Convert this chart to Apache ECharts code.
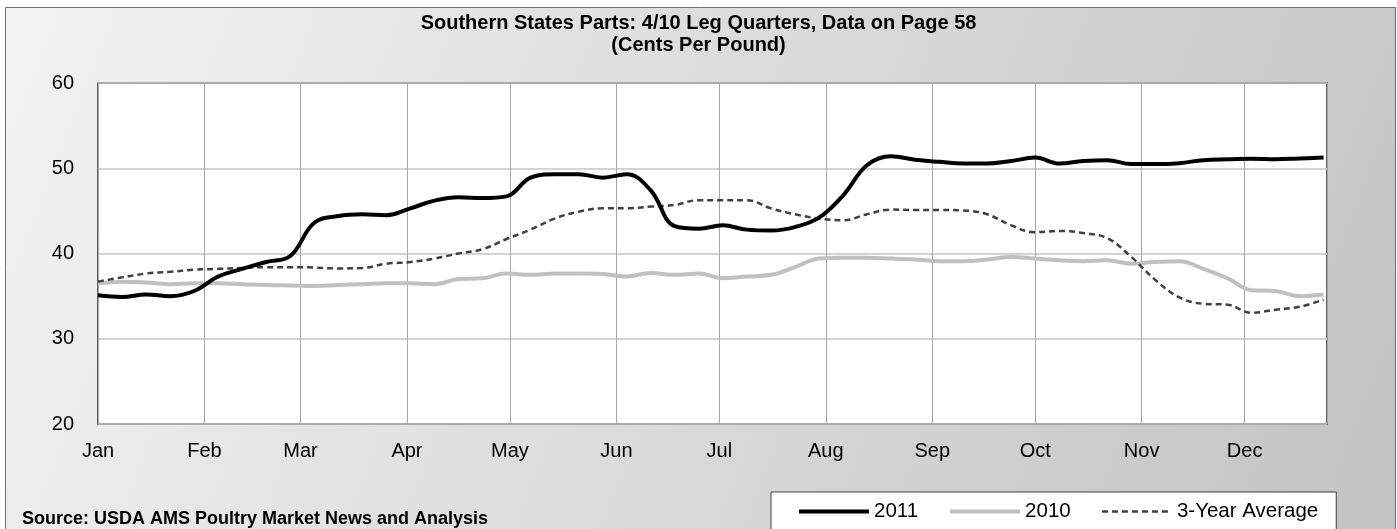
<!DOCTYPE html>
<html>
<head>
<meta charset="utf-8">
<script src="https://cdn.jsdelivr.net/npm/echarts@6/dist/echarts.min.js"></script>
<style>
  html, body { margin: 0; padding: 0; background: #ffffff; }
  #chart { width: 1397px; height: 529px; }
</style>
</head>
<body>
<div id="chart"></div>
<script>
// Weekly observation dates
const weekDates = [
  '2011-01-01','2011-01-08','2011-01-15','2011-01-22','2011-01-29',
  '2011-02-05','2011-02-12','2011-02-19','2011-02-26',
  '2011-03-05','2011-03-12','2011-03-19','2011-03-26',
  '2011-04-02','2011-04-09','2011-04-16','2011-04-23','2011-04-30',
  '2011-05-07','2011-05-14','2011-05-21','2011-05-28',
  '2011-06-04','2011-06-11','2011-06-18','2011-06-25',
  '2011-07-02','2011-07-09','2011-07-16','2011-07-23','2011-07-30',
  '2011-08-06','2011-08-13','2011-08-20','2011-08-27',
  '2011-09-03','2011-09-10','2011-09-17','2011-09-24',
  '2011-10-01','2011-10-08','2011-10-15','2011-10-22','2011-10-29',
  '2011-11-05','2011-11-12','2011-11-19','2011-11-26',
  '2011-12-03','2011-12-10','2011-12-17','2011-12-24'
];
const monthLabels = ['Jan','Feb','Mar','Apr','May','Jun','Jul','Aug','Sep','Oct','Nov','Dec'];

const s2011 = [35.1,34.9,35.2,35.0,35.6,37.3,38.2,39.0,39.7,43.6,
               44.4,44.6,44.5,45.3,46.2,46.6,46.5,46.7,48.9,49.3,
               49.3,48.9,49.3,47.4,43.2,42.9,43.3,42.8,42.7,43.1,
               44.2,46.8,50.35,51.4,51.0,50.75,50.55,50.55,50.85,51.25,
               50.55,50.85,50.95,50.5,50.5,50.6,50.95,51.05,51.1,51.05,
               51.15,51.25];
const s2010 = [36.5,36.7,36.6,36.4,36.5,36.5,36.4,36.3,36.25,36.2,
               36.3,36.4,36.5,36.5,36.4,37.0,37.1,37.65,37.5,37.65,
               37.65,37.6,37.3,37.7,37.5,37.65,37.1,37.3,37.5,38.4,
               39.4,39.5,39.5,39.4,39.3,39.1,39.1,39.3,39.6,39.4,
               39.2,39.1,39.2,38.8,39.0,39.1,38.2,37.1,35.7,35.6,
               35.0,35.2];
const sAvg = [36.7,37.2,37.65,37.85,38.1,38.2,38.3,38.4,38.4,38.35,
              38.25,38.3,38.8,39.0,39.4,40.0,40.5,41.7,42.8,44.1,
              44.9,45.3,45.3,45.5,45.7,46.25,46.25,46.25,45.3,44.6,
              44.1,43.9,44.6,45.15,45.1,45.1,45.05,44.6,43.3,42.5,
              42.65,42.4,41.8,39.6,36.9,34.85,34.1,34.0,33.05,33.4,
              33.75,34.6];

const seriesNames = ['2011','2010','3-Year Average'];
const titleText = 'Southern States Parts: 4/10 Leg Quarters, Data on Page 58\n(Cents Per Pound)';
const sourceText = 'Source: USDA AMS Poultry Market News and Analysis';

const pair = arr => weekDates.map((d, i) => [d, arr[i]]);
const FONT = 'Liberation Sans, Arial, sans-serif';

const chart = echarts.init(document.getElementById('chart'), null, { renderer: 'canvas' });
chart.setOption({
  animation: false,
  textStyle: { fontFamily: FONT },
  title: {
    text: titleText,
    left: 'center',
    top: 7,
    textStyle: { fontFamily: FONT, fontSize: 20, fontWeight: 'bold', color: '#000', lineHeight: 22 }
  },
  graphic: [
    {
      type: 'rect', z: -5, silent: true,
      shape: { x: 5.5, y: 7.5, width: 1390, height: 540 },
      style: {
        fill: new echarts.graphic.LinearGradient(0, 0, 1, 1, [
          { offset: 0, color: '#f3f3f3' },
          { offset: 1, color: '#c2c2c2' }
        ]),
        stroke: '#6f6f6f', lineWidth: 1
      }
    },
    {
      type: 'text', left: 22, top: 510, z: 5,
      style: { text: sourceText, font: 'bold 18px Liberation Sans, Arial, sans-serif', fill: '#000' }
    }
  ],
  legend: {
    data: [
      { name: seriesNames[0], lineStyle: { width: 4, color: '#000000' } },
      { name: seriesNames[1], lineStyle: { width: 4, color: '#c0c0c0' } },
      { name: seriesNames[2], lineStyle: { width: 2.5, color: '#404040', type: [6, 4] } }
    ],
    left: 771, top: 492,
    padding: [9, 18, 24, 26],
    itemWidth: 70, itemHeight: 14, itemGap: 30,
    itemStyle: { opacity: 0 },
    backgroundColor: '#ffffff',
    borderColor: '#404040', borderWidth: 1,
    textStyle: { fontFamily: FONT, fontSize: 20.5, color: '#000' }
  },
  grid: {
    left: 98, right: 70, top: 83, bottom: 105,
    show: true, backgroundColor: '#ffffff',
    borderColor: '#303030', borderWidth: 1.5
  },
  xAxis: {
    type: 'time',
    min: '2011-01-01', max: '2011-12-25',
    splitNumber: 12,
    axisLine: { show: false },
    axisTick: { show: false },
    axisLabel: {
      fontFamily: FONT, fontSize: 20, color: '#000', margin: 17,
      showMaxLabel: false,
      formatter: v => monthLabels[new Date(v).getMonth()]
    },
    splitLine: { show: true, lineStyle: { color: '#a6a6a6', width: 1 } }
  },
  yAxis: {
    type: 'value', min: 20, max: 60, interval: 10,
    axisLine: { show: false },
    axisTick: { show: false },
    axisLabel: { fontFamily: FONT, fontSize: 20, color: '#000', margin: 24 },
    splitLine: { show: true, lineStyle: { color: '#c4c4c4', width: 1.5 } }
  },
  series: [
    {
      name: seriesNames[1], type: 'line', data: pair(s2010),
      symbol: 'none', smooth: 0.4, z: 2,
      lineStyle: { color: '#c0c0c0', width: 4 }, itemStyle: { color: '#c0c0c0' }
    },
    {
      name: seriesNames[2], type: 'line', data: pair(sAvg),
      symbol: 'none', smooth: 0.4, z: 3,
      lineStyle: { color: '#404040', width: 2.5, type: [6, 4] }, itemStyle: { color: '#404040' }
    },
    {
      name: seriesNames[0], type: 'line', data: pair(s2011),
      symbol: 'none', smooth: 0.4, z: 4,
      lineStyle: { color: '#000000', width: 4 }, itemStyle: { color: '#000000' }
    }
  ]
});
</script>
</body>
</html>
